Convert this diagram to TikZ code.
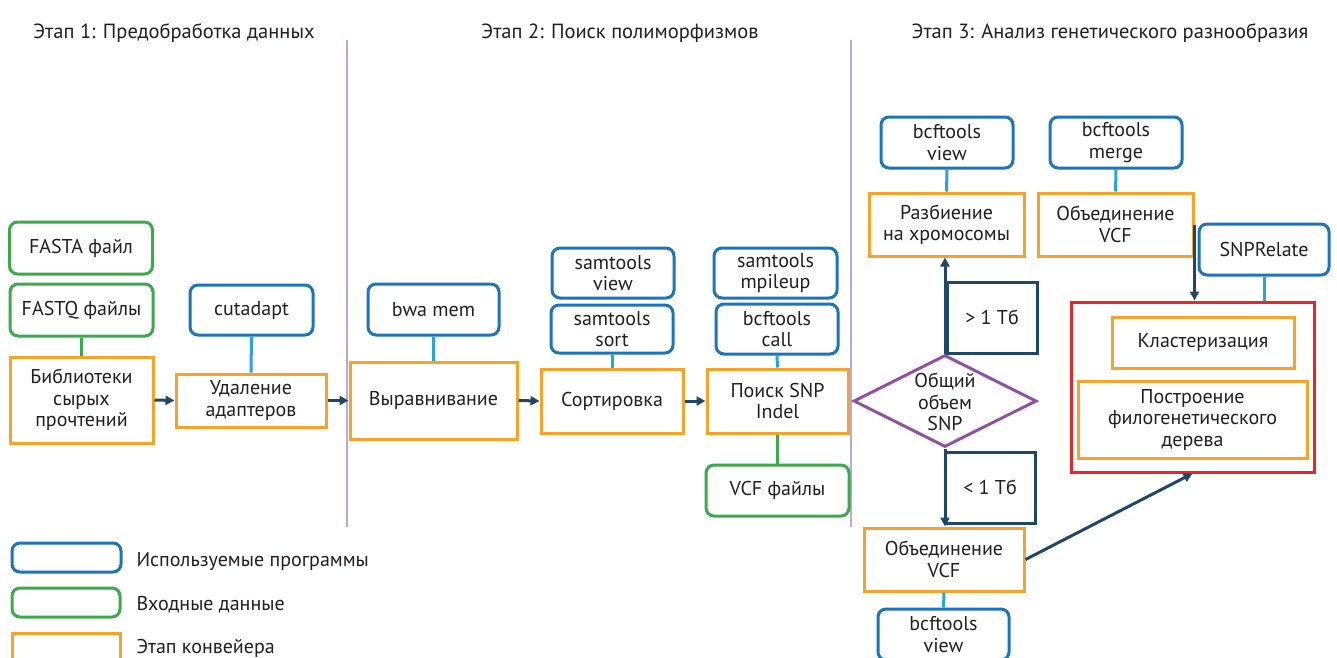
\documentclass[tikz,border=0pt]{standalone}
\usepackage{fontspec}
\setmainfont{PT Sans}
\usetikzlibrary{arrows.meta,shapes.geometric}
\definecolor{stagec}{HTML}{F9A227}
\definecolor{progc}{HTML}{1A75BC}
\definecolor{linkc}{HTML}{27A4DD}
\definecolor{inpc}{HTML}{3BAA4A}
\definecolor{navy}{HTML}{1F4767}
\definecolor{sepc}{HTML}{B9A9D4}
\definecolor{diac}{HTML}{8E52A1}
\definecolor{redc}{HTML}{EE2424}
\definecolor{txt}{HTML}{231F20}
\begin{document}
\begin{tikzpicture}[x=1pt,y=-1pt,
  base/.style={inner sep=0pt, align=center, text=txt, font=\fontsize{20}{21.5}\selectfont, line width=3pt},
  prog/.style={base, draw=progc, rounded corners=8pt},
  inp/.style={base, draw=inpc, rounded corners=8pt},
  stage/.style={base, draw=stagec},
  cond/.style={base, draw=navy},
  arr/.style={draw=navy, line width=3pt, -{Triangle[length=9pt,width=9pt]}},
  plink/.style={draw=linkc, line width=3pt},
  glink/.style={draw=inpc, line width=3pt},
  sepline/.style={draw=sepc, line width=2.5pt},
  hdr/.style={inner sep=0pt, text=txt, font=\fontsize{20.5}{22}\selectfont}]
\clip (0,0) rectangle (1337,657);
\fill[white] (0,0) rectangle (1337,657);

% headers
\node[hdr] (h1) at (174,33) {Этап 1: Предобработка данных};
\node[hdr] (h2) at (620,33) {Этап 2: Поиск полиморфизмов};
\node[hdr] (h3) at (1110,33) {Этап 3: Анализ генетического разнообразия};

% separators
\coordinate (s1t) at (347,40); \coordinate (s1b) at (347,527);
\coordinate (s2t) at (851,40); \coordinate (s2b) at (851,527);
\draw[sepline] (s1t) -- (s1b);
\draw[sepline] (s2t) -- (s2b);

% stage 1
\node[inp, minimum width=143pt, minimum height=52pt] (fasta) at (81,248) {FASTA файл};
\node[inp, minimum width=143pt, minimum height=52pt] (fastq) at (81.5,310) {FASTQ файлы};
\node[stage, minimum width=143pt, minimum height=86pt] (lib) at (81.5,400) {Библиотеки\\сырых\\прочтений};
\node[prog, minimum width=123pt, minimum height=50pt] (cut) at (251.5,310) {cutadapt};
\node[stage, minimum width=150pt, minimum height=53pt] (udal) at (251,400.5) {Удаление\\адаптеров};

% stage 2
\node[prog, minimum width=131pt, minimum height=51pt] (bwa) at (433.5,309.5) {bwa mem};
\node[stage, minimum width=167pt, minimum height=77pt] (vyr) at (433.5,400.5) {Выравнивание};
\node[prog, minimum width=122pt, minimum height=50pt] (sview) at (613,273) {samtools\\view};
\node[prog, minimum width=122pt, minimum height=48pt] (ssort) at (612,329) {samtools\\sort};
\node[stage, minimum width=142pt, minimum height=64pt] (sort) at (612,401) {Сортировка};
\node[prog, minimum width=123pt, minimum height=50pt] (mpil) at (775.5,273) {samtools\\mpileup};
\node[prog, minimum width=122pt, minimum height=50pt] (call) at (777,329) {bcftools\\call};
\node[stage, minimum width=141pt, minimum height=64pt] (snp) at (777.5,401) {Поиск SNP\\Indel};
\node[inp, minimum width=143pt, minimum height=51pt] (vcf) at (777.5,490.5) {VCF файлы};

% stage 3
\node[prog, minimum width=132pt, minimum height=51pt] (bview1) at (947,142.5) {bcftools\\view};
\node[stage, minimum width=155pt, minimum height=63pt] (razb) at (946.5,224.5) {Разбиение\\на хромосомы};
\node[prog, minimum width=132pt, minimum height=51pt] (bmerge) at (1116,142.5) {bcftools\\merge};
\node[stage, minimum width=155pt, minimum height=63pt] (obj1) at (1115.5,224.5) {Объединение\\VCF};
\node[prog, minimum width=130pt, minimum height=51pt] (snprel) at (1264,249.5) {SNPRelate};
\node[base, draw=redc, minimum width=243pt, minimum height=170pt] (red) at (1192.5,387) {};
\node[stage, minimum width=182pt, minimum height=51pt] (klast) at (1203,342.5) {Кластеризация};
\node[stage, minimum width=229pt, minimum height=77pt] (postr) at (1192.5,419.5) {Построение\\филогенетического\\дерева};

\node[draw=diac, line width=3pt, diamond, minimum width=183pt, minimum height=92pt, inner sep=0pt] (dia) at (945,401) {};
\node[base] (diat) at (945,402) {Общий\\объем\\SNP};
\node[cond, minimum width=90pt, minimum height=71pt] (gt) at (992,317.5) {> 1 Тб};
\node[cond, minimum width=90pt, minimum height=71pt] (lt) at (990,487.5) {< 1 Тб};
\node[stage, minimum width=160pt, minimum height=63pt] (obj2) at (944,559.5) {Объединение\\VCF};
\node[prog, minimum width=131pt, minimum height=51pt] (bview2) at (943.5,634.5) {bcftools\\view};

% links
\draw[glink] (fastq.south) -- (lib.north);
\draw[plink] (cut.south) -- (udal.north);
\draw[plink] (bwa.south) -- (vyr.north);
\draw[plink] (ssort.south) -- (sort.north);
\draw[plink] (call.south) -- (snp.north);
\draw[glink] (snp.south) -- (vcf.north);
\draw[plink] (bview1.south) -- (razb.north);
\draw[plink] (bmerge.south) -- (obj1.north);
\draw[plink] (snprel.south) -- (snprel.south |- red.north);
\draw[plink] (obj2.south) -- (bview2.north);

% arrows
\draw[arr] (lib.east) -- (udal.west);
\draw[arr] (udal.east) -- (vyr.west);
\draw[arr] (vyr.east) -- (sort.west);
\draw[arr] (sort.east) -- (snp.west);
\draw[arr] (dia.north) -- (dia.north |- razb.south);
\draw[arr] (dia.south) -- (dia.south |- obj2.north);
\draw[arr] (obj1.east) -- (obj1.east |- red.north);
\draw[arr] (obj2.east) -- (red.south);

% legend
\node[prog, minimum width=109pt, minimum height=29pt] (lb) at (66.5,557.5) {};
\node[inp, minimum width=108pt, minimum height=29pt] (lg) at (66,602.5) {};
\node[stage, minimum width=108pt, minimum height=29pt] (lo) at (66,647.5) {};
\node[base, anchor=west] (lbt) at (135,562) {Используемые программы};
\node[base, anchor=west] (lgt) at (135,605) {Входные данные};
\node[base, anchor=west] (lot) at (135,648) {Этап конвейера};
\end{tikzpicture}
\end{document}
